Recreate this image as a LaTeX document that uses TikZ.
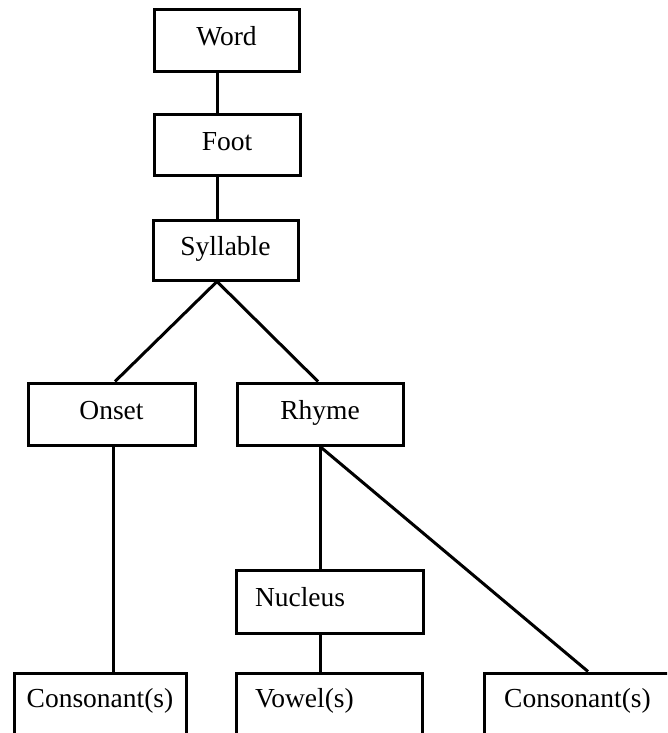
\documentclass[tikz,border=0pt]{standalone}
\usepackage{fontspec}
\setmainfont{Liberation Serif}
\begin{document}
\begin{tikzpicture}[x=1pt,y=-1pt,
  box/.style={draw, line width=3pt, inner sep=2pt, font=\fontsize{27.5}{30}\selectfont,
    text height=19pt, text depth=9pt},
  lowbox/.style={box, text depth=51pt, minimum height=100pt},
  lefttext/.style={inner xsep=19pt, align=left},
  link/.style={line width=3pt}]
\useasboundingbox (0,0) rectangle (667,733);
\clip (0,0) rectangle (667,733);
\fill[white] (0,0) rectangle (667,733);
\node[box, minimum width=145pt, minimum height=62pt] (word) at (226.5,41) {Word};
\node[box, minimum width=146pt, minimum height=60pt] (foot) at (227,145) {Foot};
\node[box, minimum width=145pt, minimum height=60pt] (syl) at (225.5,250) {Syllable};
\node[box, minimum width=167pt, minimum height=62pt] (onset) at (111.5,414) {Onset};
\node[box, minimum width=166pt, minimum height=62pt] (rhyme) at (320,414) {Rhyme};
\node[box, lefttext, text width=149pt, minimum height=63pt] (nuc) at (329.5,601.5) {Nucleus};
\node[lowbox, minimum width=172pt] (cons1) at (100,723) {Consonant(s)};
\node[lowbox, lefttext, text width=148pt] (vow) at (329,723) {Vowel(s)};
\node[lowbox, minimum width=187pt] (cons2) at (577.5,723) {Consonant(s)};
\draw[link] ([xshift=-9.5pt]word.south) -- ([xshift=-10pt]foot.north);
\draw[link] ([xshift=-10pt]foot.south) -- ([xshift=-8.5pt]syl.north);
\draw[link] ([xshift=3.5pt]onset.north) -- ([xshift=-8.5pt]syl.south) -- ([xshift=-2pt]rhyme.north);
\draw[link] ([xshift=1.5pt]onset.south) -- ([xshift=13pt]cons1.north);
\draw[link] (rhyme.south) -- ([xshift=-9.5pt]nuc.north);
\draw[link] (rhyme.south) -- ([xshift=10.5pt]cons2.north);
\draw[link] ([xshift=-9.5pt]nuc.south) -- ([xshift=-9pt]vow.north);
\end{tikzpicture}
\end{document}
